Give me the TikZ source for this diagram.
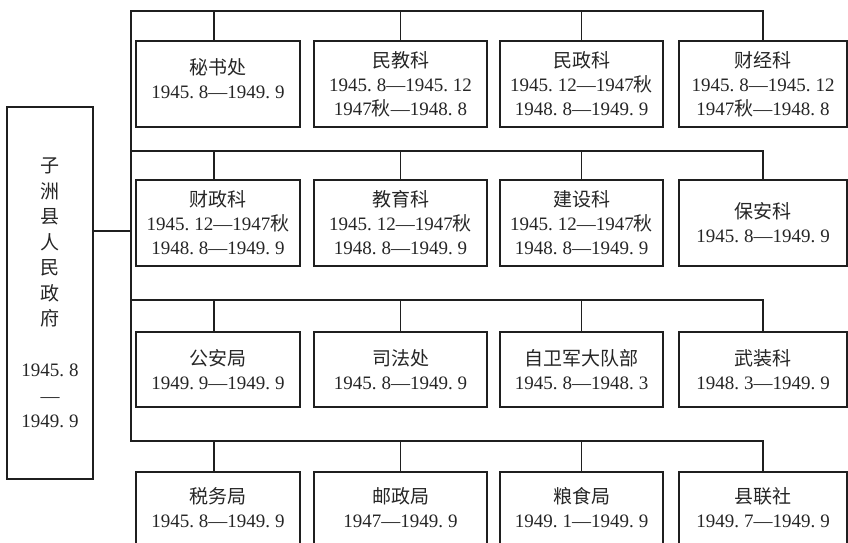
\documentclass[tikz,border=0pt]{standalone}
\usepackage{fontspec}
\setmainfont{Liberation Serif}
\newfontfamily\cjk{Noto Sans CJK SC}
\newcommand\pd{.\kern5pt}
\newcommand\zh[1]{{\cjk #1}}
\begin{document}
\begin{tikzpicture}[x=1pt,y=-1pt,
  box/.style={draw=black!88, line width=1.8pt, rectangle, inner sep=0pt, outer sep=0pt, anchor=north west},
  wire/.style={draw=black!88, line width=1.6pt},
  txt/.style={align=center, inner sep=0pt, text=black!85, font=\fontsize{19}{24}\selectfont}
]
\useasboundingbox (0,0) rectangle (848,543);
\clip (0,0) rectangle (848,543);
\fill[white] (0,0) rectangle (848,543);

% government box
\node[box, minimum width=86pt, minimum height=372pt] (gov) at (7,107) {};
\node[txt, font=\fontsize{19}{25.5}\selectfont] (govt) at (gov.center)
  {\zh{子}\\\zh{洲}\\\zh{县}\\\zh{人}\\\zh{民}\\\zh{政}\\\zh{府}\\[25.5pt]1945\pd 8\\—\\1949\pd 9};

% row 1
\node[box, minimum width=164pt, minimum height=86pt] (b11) at (136,41) {};
\node[box, minimum width=173pt, minimum height=86pt] (b12) at (314,41) {};
\node[box, minimum width=163pt, minimum height=86pt] (b13) at (500,41) {};
\node[box, minimum width=168pt, minimum height=86pt] (b14) at (679,41) {};
% row 2
\node[box, minimum width=164pt, minimum height=86pt] (b21) at (136,180) {};
\node[box, minimum width=173pt, minimum height=86pt] (b22) at (314,180) {};
\node[box, minimum width=163pt, minimum height=86pt] (b23) at (500,180) {};
\node[box, minimum width=168pt, minimum height=86pt] (b24) at (679,180) {};
% row 3
\node[box, minimum width=164pt, minimum height=75pt] (b31) at (136,332) {};
\node[box, minimum width=173pt, minimum height=75pt] (b32) at (314,332) {};
\node[box, minimum width=163pt, minimum height=75pt] (b33) at (500,332) {};
\node[box, minimum width=168pt, minimum height=75pt] (b34) at (679,332) {};
% row 4
\node[box, minimum width=164pt, minimum height=80pt] (b41) at (136,472) {};
\node[box, minimum width=173pt, minimum height=80pt] (b42) at (314,472) {};
\node[box, minimum width=163pt, minimum height=80pt] (b43) at (500,472) {};
\node[box, minimum width=168pt, minimum height=80pt] (b44) at (679,472) {};

% texts row 1
\node[txt, yshift=5pt] (t11) at (b11.center) {\zh{秘书处}\\1945\pd 8—1949\pd 9};
\node[txt] (t12) at (b12.center) {\zh{民教科}\\1945\pd 8—1945\pd 12\\1947\zh{秋}—1948\pd 8};
\node[txt] (t13) at (b13.center) {\zh{民政科}\\1945\pd 12—1947\zh{秋}\\1948\pd 8—1949\pd 9};
\node[txt] (t14) at (b14.center) {\zh{财经科}\\1945\pd 8—1945\pd 12\\1947\zh{秋}—1948\pd 8};
% texts row 2
\node[txt] (t21) at (b21.center) {\zh{财政科}\\1945\pd 12—1947\zh{秋}\\1948\pd 8—1949\pd 9};
\node[txt] (t22) at (b22.center) {\zh{教育科}\\1945\pd 12—1947\zh{秋}\\1948\pd 8—1949\pd 9};
\node[txt] (t23) at (b23.center) {\zh{建设科}\\1945\pd 12—1947\zh{秋}\\1948\pd 8—1949\pd 9};
\node[txt] (t24) at (b24.center) {\zh{保安科}\\1945\pd 8—1949\pd 9};
% texts row 3
\node[txt] (t31) at (b31.center) {\zh{公安局}\\1949\pd 9—1949\pd 9};
\node[txt] (t32) at (b32.center) {\zh{司法处}\\1945\pd 8—1949\pd 9};
\node[txt] (t33) at (b33.center) {\zh{自卫军大队部}\\1945\pd 8—1948\pd 3};
\node[txt] (t34) at (b34.center) {\zh{武装科}\\1948\pd 3—1949\pd 9};
% texts row 4
\node[txt, yshift=4pt] (t41) at (b41.center) {\zh{税务局}\\1945\pd 8—1949\pd 9};
\node[txt, yshift=4pt] (t42) at (b42.center) {\zh{邮政局}\\1947—1949\pd 9};
\node[txt, yshift=4pt] (t43) at (b43.center) {\zh{粮食局}\\1949\pd 1—1949\pd 9};
\node[txt, yshift=4pt] (t44) at (b44.center) {\zh{县联社}\\1949\pd 7—1949\pd 9};

% bus coordinates
\coordinate (r1) at (131,11);
\coordinate (r2) at (131,151);
\coordinate (r3) at (131,300);
\coordinate (r4) at (131,441);
\coordinate (j) at (131,231);
\foreach \r in {1,2,3,4}{
  \coordinate (d\r1) at ([xshift=-4pt]b\r1.north);
}

% trunk and buses
\draw[wire] (b14.north) |- (r1) -- (r4) -| (b44.north);
\draw[wire] (r2) -| (b24.north);
\draw[wire] (r3) -| (b34.north);
\foreach \r in {1,2,3,4}{
  \draw[wire] (d\r1) -- (d\r1 |- r\r);
  \draw[wire] (b\r2.north) -- (b\r2.north |- r\r);
  \draw[wire] (b\r3.north) -- (b\r3.north |- r\r);
}
% link from government
\draw[wire] ([yshift=62pt]gov.east) -- (j);
\end{tikzpicture}
\end{document}
